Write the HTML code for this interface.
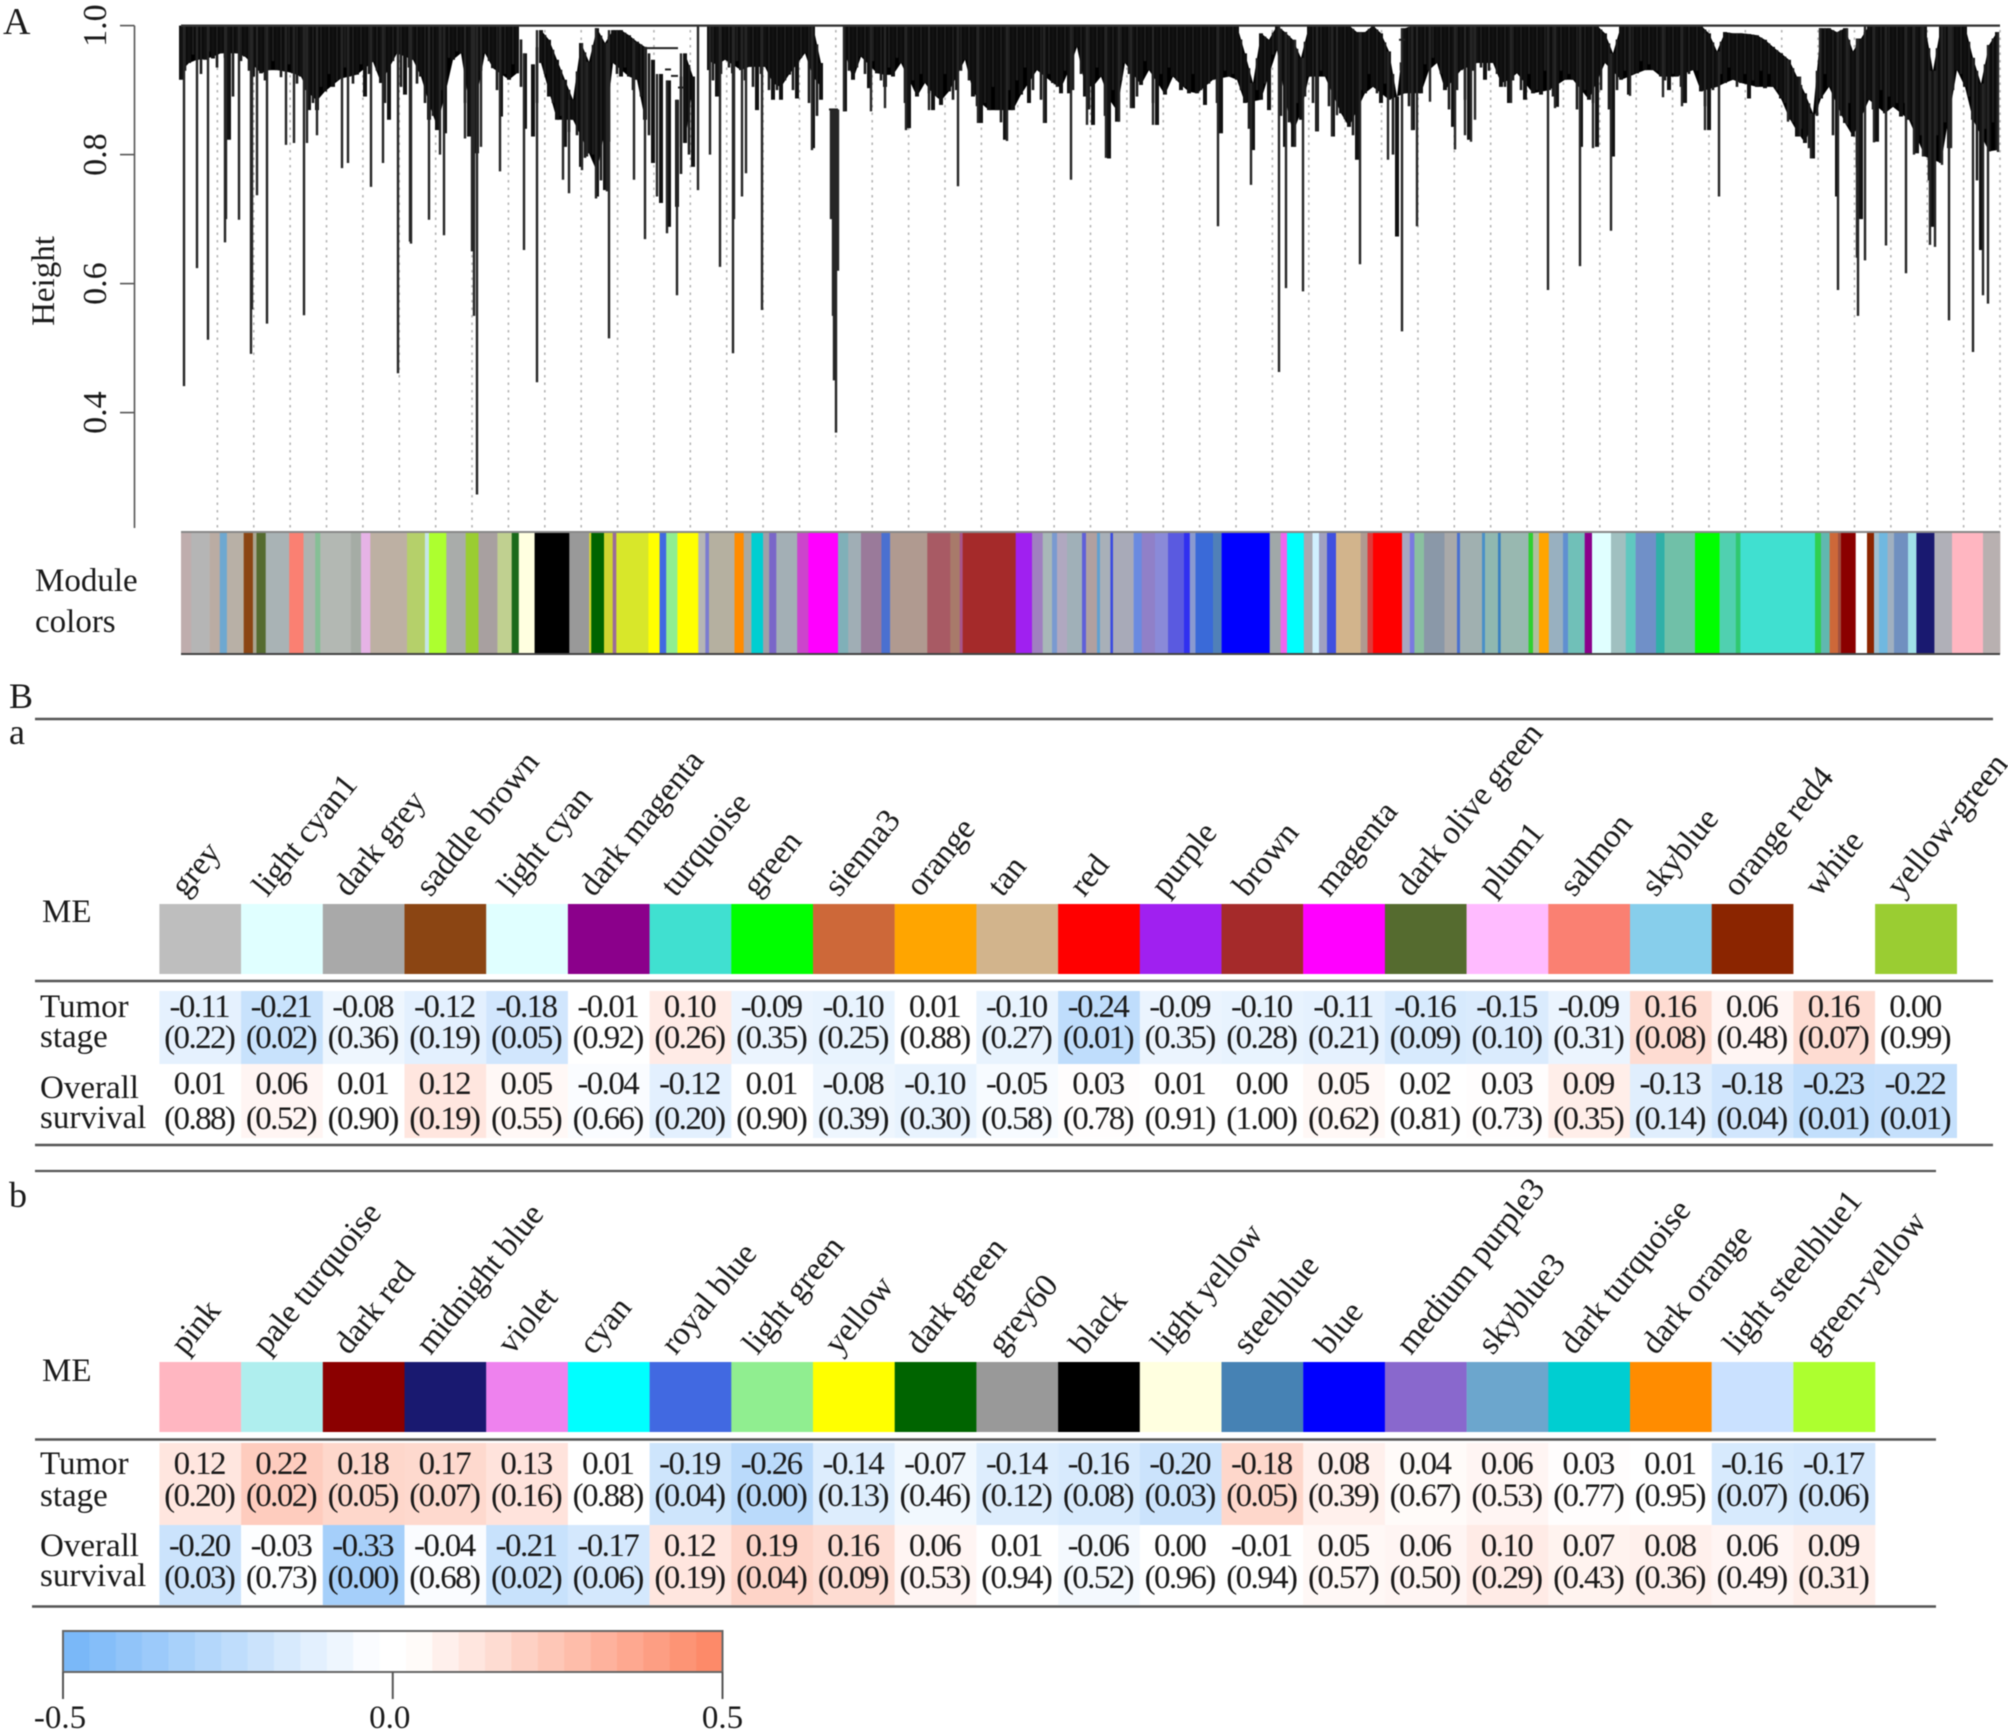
<!DOCTYPE html>
<html lang="en">
<head>
<meta charset="utf-8">
<title>WGCNA dendrogram and module-trait table</title>
<style>
html,body{margin:0;padding:0;background:#fff;}
#figure{display:block;width:2008px;height:1736px;filter:blur(0.6px);font-family:"Liberation Serif","Times New Roman",serif;}
</style>
</head>
<body>
<svg id="figure" xmlns="http://www.w3.org/2000/svg" width="2008" height="1736" viewBox="0 0 2008 1736"></svg>
<script>
// ---------- Panel A data ----------
const heightTicks = [1.0, 0.8, 0.6, 0.4];
const leafCount = 1819;
const fringeStep = 8;
const guideCount = 50;
// Lower edge of the dense dendrogram mass, one value per block of leaves (height units)
const fringeHeight = [
.916,.942,.947,.947,.949,.957,.823,.957,.952,.921,.926,.931,.931,.929,.926,.921,.869,.869,.898,.905,
.918,.921,.924,.890,.944,.911,.854,.957,.893,.947,.921,.854,.838,.833,.947,.957,.828,.802,.957,.934,
.859,.916,.926,.840,.828,.942,.890,.854,.812,.854,.781,.802,.735,.745,.942,.921,.921,.916,.854,.787,
.725,.688,.719,.818,.781,1,.931,.890,.947,.926,.931,.936,.869,.936,.885,.885,.924,.887,.957,.810,
.885,1,1,.867,.916,.952,.903,.926,.905,.921,.942,.841,.890,.911,.869,.877,.898,.900,.947,.890,
.849,.869,.869,.823,.869,.893,.880,.931,.849,.911,.895,.895,.967,.890,.846,.921,.794,.851,.942,.872,
.908,.931,.846,.893,.921,.900,.895,.895,.877,.916,.833,.921,.916,.880,.807,.885,.869,.962,.812,.812,
.854,.921,.836,.921,.828,.864,.843,.792,.895,.905,.880,.885,.673,.895,.838,.895,.931,.942,.900,.843,
.931,.823,.942,.916,.942,.905,.880,.926,.885,.895,.893,.900,.874,.916,.916,.812,.885,.812,.942,.797,
.916,.893,.926,.931,.931,.921,.900,.921,.880,.931,.898,.838,.905,.911,.916,.911,.887,.905,.903,.905,
.887,.854,.828,.818,.794,.887,.905,.735,.849,.828,.700,.885,.820,.864,.874,.859,.854,.802,.797,.688,
.787,.810,.931,.905,.854,.652,.805,.807];
// Streaks read between the blocks above
const minorHeight = [
.930,.955,.925,.960,.935,.950,.890,.945,.930,.940,.915,.945,.920,.940,.910,.900,.880,.905,.925,.915,
.935,.910,.940,.925,.930,.880,.945,.905,.935,.910,.880,.860,.900,.950,.960,.880,.850,.930,.945,.900,
.925,.940,.905,.860,.880,.925,.880,.860,.835,.830,.795,.800,.760,.820,.925,.935,.900,.890,.830,.760,
.700,.700,.770,.800,1,1,.915,.925,.935,.945,.915,.905,.925,.900,.900,.915,.900,.950,.880,.860,
1,1,1,.930,.935,.925,.945,.915,.935,.950,.880,.915,.925,.895,.890,.925,.885,.930,.915,.875,
.880,.905,.850,.900,.915,.935,.900,.885,.925,.905,.930,.900,.925,.870,.935,.860,.900,.915,.925,.890,
.945,.880,.925,.935,.915,.905,.925,.900,.910,.880,.930,.925,.900,.840,.900,.910,.955,.860,.850,.880,
.890,.880,.930,.875,.900,.855,.830,.900,.925,.895,.910,.800,.930,.875,.900,.940,.950,.925,.870,.900,
.885,.930,.935,.930,.925,.905,.915,.900,.925,.900,.930,.890,.930,.925,.870,.900,.880,.900,.870,.900,
.930,.925,.945,.940,.930,.915,.925,.905,.925,.930,.875,.900,.925,.935,.905,.925,.915,.930,.925,.900,
.880,.850,.840,.810,.860,.925,.830,.860,.880,.780,.900,.870,.900,.890,.880,.880,.850,.830,.760,.830,
.850,.900,.925,.890,.760,.840,.850];
// Upper edge of the mass where a white wedge sits beneath the root line
const canopyBlock = [43,44,45,46,47,48,49,50,51,52,53,54,55,56,57,58,59,60,61,62,63,64,80,81,82,133,134,135,136,138,139,140,147,148,150,151,152,153,178,179,191,192,193,194,195,196,197,198,199,200,201,202,203,204,205,206,207,208,209,210,219,224,225,226,227];
const canopyValue = [.957,.940,.993,.978,.947,.916,.885,.973,.944,.996,.973,.993,.993,.985,.975,.967,.947,.925,.915,.885,.957,.921,.942,.870,.870,.957,.911,.988,.978,.990,.978,.950,.990,.990,.988,.960,.890,.996,.988,.957,.988,.960,.990,.988,.988,.987,.985,.978,.967,.957,.947,.921,.895,.864,.996,.996,.990,.996,.960,.980,.930,.950,.910,.970,.990];
// Blocks that are open staircases of separate branches rather than a solid mass
const hollowBlock = [43,44,59,60,61,62];
// Long individual branches: leaf rank and the height they reach
const spikeLeaf = [3,16,27,44,45,58,70,71,76,86,105,113,123,126,136,161,167,190,202,217,229,230,248,259,263,284,291,293,296,300,319,343,356,382,388,401,406,415,426,428,453,464,476,486,496,500,517,529,539,552,553,561,565,581,631,650,652,653,655,657,663,690,704,725,748,777,797,826,863,890,906,925,938,950,972,1037,1070,1098,1105,1114,1122,1136,1151,1156,1179,1207,1221,1231,1236,1249,1274,1284,1290,1294,1330,1367,1374,1399,1412,1430,1449,1482,1501,1524,1538,1607,1619,1630,1639,1657,1666,1677,1676,1684,1693,1705,1725,1733,1742,1749,1754,1761,1768,1770,1792,1802,1807,1817];
const spikeHeight = [.441,.624,.513,.664,.700,.699,.491,.560,.737,.538,.815,.818,.551,.818,.830,.779,.787,.750,.787,.461,.665,.662,.699,.800,.675,.825,.650,.550,.273,.812,.774,.652,.447,.761,.740,.776,.797,.732,.743,.515,.761,.669,.735,.678,.582,.812,.745,.800,.626,.492,.700,.735,.771,.559,.807,.700,.550,.450,.369,.620,.867,.867,.872,.838,.869,.751,.849,.821,.849,.761,.846,.795,.851,.872,.846,.689,.753,.463,.593,.812,.588,.836,.828,.861,.630,.792,.526,.838,.689,.882,.808,.830,.820,.854,.880,.590,.872,.627,.810,.682,.891,.889,.875,.838,.735,.851,.828,.794,.887,.590,.846,.550,.640,.636,.819,.659,.616,.800,.797,.660,.657,.784,.543,.810,.494,.582,.569,.804];
// Horizontal merges visible below the root line: start leaf, end leaf, height
const linkStart = [463,484,490,497,648,1218];
const linkEnd = [497,490,497,503,657,1224];
const linkHeight = [.965,.932,.922,.904,.870,.978];

const moduleWidths = [10.2,18.4,10.2,7.1,16.8,9.2,3.6,9.2,23.5,14.3,11.7,5.1,30.6,10.2,9.2,36.7,17.9,4.1,17.3,19.4,12.8,18.9,14.3,7.1,15.8,34.7,19.9,2,12.8,8.7,3.6,32.1,11.2,6.6,11.2,20.9,7.1,3.6,25.5,9.2,7.7,11.7,6.1,7.1,20.9,11.2,29.6,10.2,12.8,20.4,8.7,37.2,23,9.4,3,53,16.3,10.7,9.3,5,10,15,4,11,3,10.4,2.6,20.6,8.1,13.3,13,16,5.8,5.7,17.5,8.6,48.1,11,6.3,16.8,8.7,6.5,8,9,24.6,6.9,5.5,29,7.8,4.6,9.6,20.5,12.5,3,22,3,13,2.7,27.8,4.5,6,9.8,14.2,5,16.7,7.3,19,14.8,9.8,20.4,8.6,30.4,24.6,16.2,4.6,74.6,6,8.6,8.4,3,14.7,11.3,7,5,8.5,6.5,14,8.4,18,17.6,31,17];
const moduleColors = ["#bfadad","#b5b5b5","#baaca3","#6ea8d0","#b8b0a6","#8b4513","#a9a48f","#556b2f","#a9b3b5","#fa8072","#aeb3b0","#86bf96","#b3b8b3","#a5aca5","#e6b3e6","#bdb0a3","#b5d06a","#c5e6e6","#adff2f","#a9acaa","#9acd32","#a8a0a0","#c0d090","#1a6a1a","#ffffe0","#000000","#999999","#d8d830","#006400","#cfd530","#9a6a9a","#d8e72a","#ffff00","#4169e1","#90ee90","#ffff00","#b5b5b5","#7b7bd0","#b5b0a0","#ff8c00","#a9a9a0","#00ced1","#a0a0a8","#7a66c8","#a3afb5","#cc44cc","#ff00ff","#80b0b8","#a0aeb5","#9a7a9a","#4a70d0","#b09a90","#a85a64","#a87a6a","#a8548a","#a52a2a","#a020f0","#a080c0","#a8b8b8","#7a9ad0","#b0a8c0","#a0b0b8","#6060d8","#b0a0a0","#60a0d0","#a8b0b8","#3a4ae0","#a8aab8","#6a8ae0","#9080c8","#8a8ad8","#5a5ae0","#3030f0","#8a9ad0","#3a6ad8","#5080b8","#0000ff","#a0a8a8","#ee66ee","#00ffff","#a8a8b0","#d0f0ff","#a0a0c0","#4050e0","#d2b48c","#b09a90","#e03a3a","#ff0000","#a8a8c0","#7a7ae0","#8ac0a0","#8a98a8","#a9a9a9","#4a70d0","#a0b0b0","#4a90c8","#90b8b0","#3a80c0","#98b8b0","#30d030","#b0c0a0","#ffa500","#98b0c0","#6090d0","#70c0b8","#8b008b","#e0ffff","#a0c0c0","#60c8c0","#7090c8","#30b0a8","#70c0a8","#00ff00","#50d0b0","#30c870","#40e0d0","#30d050","#60b8b0","#cd6839","#a05040","#8b0000","#ffffff","#8b2500","#a0c0d0","#70b8e0","#a0b0c0","#7090c0","#a0e0e8","#191970","#b0b0b8","#ffb6c1","#b8b0b0"];

// ---------- Panel B data ----------
const namesA = ["grey","light cyan1","dark grey","saddle brown","light cyan","dark magenta","turquoise","green","sienna3","orange","tan","red","purple","brown","magenta","dark olive green","plum1","salmon","skyblue","orange red4","white","yellow-green"];
const colorsA = ["#bebebe","#e0ffff","#a9a9a9","#8b4513","#e0ffff","#8b008b","#40e0d0","#00ff00","#cd6839","#ffa500","#d2b48c","#ff0000","#a020f0","#a52a2a","#ff00ff","#556b2f","#ffbbff","#fa8072","#87ceeb","#8b2500","#ffffff","#9acd32"];
const tumorA = [-0.11,-0.21,-0.08,-0.12,-0.18,-0.01,0.10,-0.09,-0.10,0.01,-0.10,-0.24,-0.09,-0.10,-0.11,-0.16,-0.15,-0.09,0.16,0.06,0.16,0.00];
const tumorPA = [0.22,0.02,0.36,0.19,0.05,0.92,0.26,0.35,0.25,0.88,0.27,0.01,0.35,0.28,0.21,0.09,0.10,0.31,0.08,0.48,0.07,0.99];
const survivalA = [0.01,0.06,0.01,0.12,0.05,-0.04,-0.12,0.01,-0.08,-0.10,-0.05,0.03,0.01,0.00,0.05,0.02,0.03,0.09,-0.13,-0.18,-0.23,-0.22];
const survivalPA = [0.88,0.52,0.90,0.19,0.55,0.66,0.20,0.90,0.39,0.30,0.58,0.78,0.91,1.00,0.62,0.81,0.73,0.35,0.14,0.04,0.01,0.01];

const namesB = ["pink","pale turquoise","dark red","midnight blue","violet","cyan","royal blue","light green","yellow","dark green","grey60","black","light yellow","steelblue","blue","medium purple3","skyblue3","dark turquoise","dark orange","light steelblue1","green-yellow"];
const colorsB = ["#ffb6c1","#afeeee","#8b0000","#191970","#ee82ee","#00ffff","#4169e1","#90ee90","#ffff00","#006400","#999999","#000000","#ffffe0","#4682b4","#0000ff","#8968cd","#6ca6cd","#00ced1","#ff8c00","#cae1ff","#adff2f"];
const tumorB = [0.12,0.22,0.18,0.17,0.13,0.01,-0.19,-0.26,-0.14,-0.07,-0.14,-0.16,-0.20,-0.18,0.08,0.04,0.06,0.03,0.01,-0.16,-0.17];
const tumorPB = [0.20,0.02,0.05,0.07,0.16,0.88,0.04,0.00,0.13,0.46,0.12,0.08,0.03,0.05,0.39,0.67,0.53,0.77,0.95,0.07,0.06];
const survivalB = [-0.20,-0.03,-0.33,-0.04,-0.21,-0.17,0.12,0.19,0.16,0.06,0.01,-0.06,0.00,-0.01,0.05,0.06,0.10,0.07,0.08,0.06,0.09];
const survivalPB = [0.03,0.73,0.00,0.68,0.02,0.06,0.19,0.04,0.09,0.53,0.94,0.52,0.96,0.94,0.57,0.50,0.29,0.43,0.36,0.49,0.31];
// The steelblue tumor-stage cell is shaded red in the source figure although its label is negative.
const shadeOverrideB = {13: 0.18};
const legendTicks = [-0.5, 0.0, 0.5];
const legendSteps = 25;

// ---------- helpers ----------
const SVG_NS = "http://www.w3.org/2000/svg";
const root = document.getElementById("figure");
function el(tag, attrs, parent) {
  const node = document.createElementNS(SVG_NS, tag);
  for (const k in attrs) node.setAttribute(k, attrs[k]);
  (parent || root).appendChild(node);
  return node;
}
function label(str, x, y, size, parent, extra) {
  const t = el("text", Object.assign({x: x, y: y, "font-size": size, fill: "#1a1a1a"}, extra || {}), parent);
  t.textContent = str;
  return t;
}
const plotLeft = 181, plotWidth = 1819, topY = 25.6, unitPx = 645;
function xLeaf(r) { return plotLeft + r / leafCount * plotWidth; }
function yHeight(h) { return topY + (1 - h) * unitPx; }
function canopyAt(block) {
  const i = canopyBlock.indexOf(block);
  return i < 0 ? 1 : canopyValue[i];
}
function isEmptyBlock(k) { return fringeHeight[k] >= canopyAt(k); }
function massEdge(k) {
  const prev = k > 0 ? fringeHeight[k - 1] : fringeHeight[k];
  const next = k < fringeHeight.length - 1 ? fringeHeight[k + 1] : fringeHeight[k];
  return Math.max(fringeHeight[k], (prev + next) / 2);
}
function shade(v) {
  const f = Math.max(0, Math.min(1, Math.abs(v) / 0.5 * 1.1 - 0.05));
  const end = v < 0 ? [122, 184, 248] : [253, 138, 105];
  const c = end.map(e => Math.round(255 + (e - 255) * f));
  return "rgb(" + c.join(",") + ")";
}
function fmt(v) { return v.toFixed(2); }

// ---------- Panel A ----------
const panelA = el("g", {});



const letterA = label("A", 3, 34, 38, panelA);



const guides = el("g", {stroke: "#b4b4b4", "stroke-width": 1.6, "stroke-dasharray": "2.5 5"}, panelA);


for (let i = 1; i <= guideCount; i++) {
  const gx = xLeaf(i * leafCount / guideCount);
  const g = el("line", {x1: gx, x2: gx, y1: 30, y2: 531}, guides);
  
  
}

const axis = el("g", {stroke: "#555", "stroke-width": 1.6}, panelA);


const axisLine = el("line", {x1: 134.5, x2: 134.5, y1: yHeight(heightTicks[0]), y2: 528}, axis);


heightTicks.forEach(function (h) {
  const y = yHeight(h);
  const tick = el("line", {x1: 120, x2: 134.5, y1: y, y2: y}, axis);
  
  
  const tl = label(h.toFixed(1), 106, y, 34, panelA, {"text-anchor": "middle", transform: "rotate(-90 106 " + y + ")"});
  
  
});
const yTitle = label("Height", 54, 281, 33, panelA, {"text-anchor": "middle", transform: "rotate(-90 54 281)"});



const dendro = el("g", {fill: "#000"}, panelA);


for (let k = 0; k < fringeHeight.length - 1; k++) {
  if (isEmptyBlock(k) || isEmptyBlock(k + 1)) continue;
  if (hollowBlock.includes(k) || hollowBlock.includes(k + 1)) continue;
  const x0 = xLeaf(k * fringeStep), x1 = xLeaf((k + 1) * fringeStep);
  const pts = [
    [x0, yHeight(canopyAt(k))],
    [x1, yHeight(canopyAt(k + 1))],
    [x1, yHeight(massEdge(k + 1))],
    [x0, yHeight(massEdge(k))]
  ].map(p => p[0].toFixed(1) + "," + p[1].toFixed(1)).join(" ");
  const mass = el("polygon", {points: pts}, dendro);
  
  
}
fringeHeight.forEach(function (h, k) {
  const top = canopyAt(k);
  if (h >= top) return;
  const cx = xLeaf(k * fringeStep);
  const streak = el("rect", {x: cx - 2, width: 4, y: yHeight(top), height: yHeight(h) - yHeight(top), fill: "#111"}, dendro);
  
  
});
minorHeight.forEach(function (h, k) {
  if (isEmptyBlock(k) || isEmptyBlock(k + 1)) return;
  if (hollowBlock.includes(k) && hollowBlock.includes(k + 1)) return;
  const top = (canopyAt(k) + canopyAt(k + 1)) / 2;
  if (h >= top) return;
  const cx = xLeaf((k + 0.5) * fringeStep);
  const streak = el("rect", {x: cx - 1.3, width: 2.6, y: yHeight(top), height: yHeight(h) - yHeight(top), fill: "#1c1c1c"}, dendro);
  
  
});
spikeLeaf.forEach(function (r, i) {
  const block = Math.round(r / fringeStep);
  const sx = xLeaf(r);
  const s = el("line", {x1: sx, x2: sx, y1: yHeight(canopyAt(block)), y2: yHeight(spikeHeight[i]), stroke: "#262626", "stroke-width": 2.4}, dendro);
  
  
});
linkStart.forEach(function (r, i) {
  const ly = yHeight(linkHeight[i]);
  const l = el("line", {x1: xLeaf(r), x2: xLeaf(linkEnd[i]), y1: ly, y2: ly, stroke: "#222", "stroke-width": 2}, dendro);
  
  
});
const rootLine = el("line", {x1: plotLeft, x2: plotLeft + plotWidth, y1: topY, y2: topY, stroke: "#333", "stroke-width": 2.2}, dendro);



const moduleLabel1 = label("Module", 35, 591, 33, panelA);


const moduleLabel2 = label("colors", 35, 632, 33, panelA);



const strip = el("g", {}, panelA);


const moduleTotal = moduleWidths.reduce((a, b) => a + b, 0);
let moduleCum = 0;
moduleWidths.forEach(function (w, i) {
  const x0 = plotLeft + moduleCum / moduleTotal * plotWidth;
  const x1 = plotLeft + (moduleCum + w) / moduleTotal * plotWidth;
  const seg = el("rect", {x: x0, width: x1 - x0 + 0.3, y: 532, height: 122, fill: moduleColors[i]}, strip);
  
  
  moduleCum += w;
});
const stripTop = el("line", {x1: plotLeft, x2: plotLeft + plotWidth, y1: 532, y2: 532, stroke: "#888", "stroke-width": 2}, strip);


const stripBottom = el("line", {x1: plotLeft, x2: plotLeft + plotWidth, y1: 654, y2: 654, stroke: "#444", "stroke-width": 2}, strip);



// ---------- Panel B ----------
const colLeft = 159.4, colWidth = 81.7;
function drawTable(name, cfg) {
  const g = el("g", {});
  
  

  const me = label("ME", 42, cfg.meBase, 33, g);
  
  

  cfg.names.forEach(function (n, i) {
    const left = colLeft + i * colWidth;
    const ax = left + 26, ay = cfg.swatchTop - 6;
    const nameText = label(n, ax, ay, 33, g, {transform: "rotate(-51 " + ax + " " + ay + ")", "letter-spacing": "-0.2"});
    
    

    const sw = el("rect", {x: left, y: cfg.swatchTop, width: colWidth + 0.2, height: cfg.swatchBottom - cfg.swatchTop, fill: cfg.colors[i]}, g);
    
    

    const tv = cfg.overrides && cfg.overrides[i] !== undefined ? cfg.overrides[i] : cfg.tumor[i];
    const c1 = el("rect", {x: left, y: cfg.row1Top, width: colWidth + 0.2, height: cfg.row2Top - cfg.row1Top, fill: shade(tv)}, g);
    
    
    const c2 = el("rect", {x: left, y: cfg.row2Top, width: colWidth + 0.2, height: cfg.row2Bottom - cfg.row2Top, fill: shade(cfg.survival[i])}, g);
    
    

    const cx = left + colWidth / 2 - 1;
    const t1 = label(fmt(cfg.tumor[i]), cx, cfg.base[0], 33, g, {"text-anchor": "middle", "letter-spacing": "-1.6"});
    
    
    const t2 = label("(" + fmt(cfg.tumorP[i]) + ")", cx, cfg.base[1], 33, g, {"text-anchor": "middle", "letter-spacing": "-1.6"});
    
    
    const t3 = label(fmt(cfg.survival[i]), cx, cfg.base[2], 33, g, {"text-anchor": "middle", "letter-spacing": "-1.6"});
    
    
    const t4 = label("(" + fmt(cfg.survivalP[i]) + ")", cx, cfg.base[3], 33, g, {"text-anchor": "middle", "letter-spacing": "-1.6"});
    
    
  });

  const rowWords = ["Tumor", "stage", "Overall", "survival"];
  rowWords.forEach(function (w, i) {
    const t = label(w, 40, cfg.rowBase[i], 33, g);
    
    
  });
}
drawTable("table-a", {
  names: namesA, colors: colorsA, tumor: tumorA, tumorP: tumorPA, survival: survivalA, survivalP: survivalPA,
  meBase: 922, swatchTop: 904, swatchBottom: 974, row1Top: 991, row2Top: 1064, row2Bottom: 1138,
  base: [1017, 1048, 1094, 1129], rowBase: [1017, 1047, 1098, 1128]
});
drawTable("table-b", {
  names: namesB, colors: colorsB, tumor: tumorB, tumorP: tumorPB, survival: survivalB, survivalP: survivalPB, overrides: shadeOverrideB,
  meBase: 1381, swatchTop: 1362, swatchBottom: 1432, row1Top: 1443, row2Top: 1525, row2Bottom: 1605,
  base: [1474, 1506, 1556, 1588], rowBase: [1474, 1506, 1556, 1586]
});

function rule(x1, x2, y, w) {
  const l = el("line", {x1: x1, x2: x2, y1: y, y2: y, stroke: "#555", "stroke-width": w});
  
  
}
rule(35, 1993, 719, 2.4);
rule(35, 1993, 981, 2.4);
rule(35, 1993, 1145, 2.4);
rule(35, 1936, 1171, 2.2);
rule(35, 1936, 1439.5, 2.4);
rule(32, 1936, 1606.5, 2.4);

const letterB = label("B", 9, 708, 36);


const letterSmallA = label("a", 9, 744, 36);


const letterSmallB = label("b", 9, 1207, 36);



// ---------- Colour legend ----------
const legend = el("g", {});


const legLeft = 63, legRight = 722.5, legTop = 1631, legBottom = 1672;
function xLegend(v) { return legLeft + (v + 0.5) * (legRight - legLeft); }
for (let i = 0; i < legendSteps; i++) {
  const v0 = -0.5 + i / legendSteps;
  const stepRect = el("rect", {x: xLegend(v0), y: legTop, width: (legRight - legLeft) / legendSteps + 0.3, height: legBottom - legTop, fill: shade(v0 + 0.5 / legendSteps)}, legend);
  
  
}
const legFrame = el("rect", {x: legLeft, y: legTop, width: legRight - legLeft, height: legBottom - legTop, fill: "none", stroke: "#666", "stroke-width": 2}, legend);


legendTicks.forEach(function (v) {
  const lx = xLegend(v);
  const tick = el("line", {x1: lx, x2: lx, y1: legBottom, y2: 1699, stroke: "#555", "stroke-width": 2}, legend);
  
  
  const tl = label(v.toFixed(1), lx - (v === 0 ? 3 : 0) - (v < 0 ? 3 : 0), 1728, 33, legend, {"text-anchor": "middle"});
  
  
});
</script>
</body>
</html>
